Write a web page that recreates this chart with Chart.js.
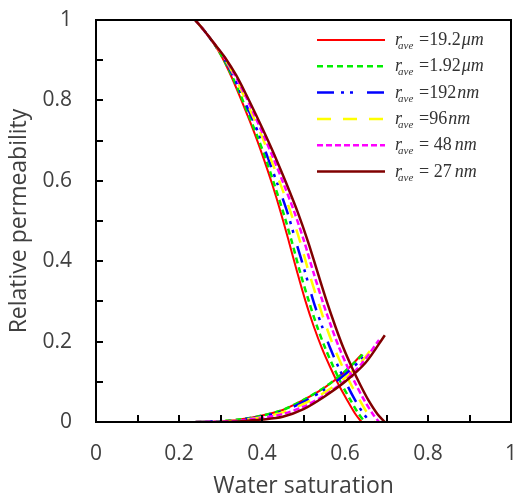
<!DOCTYPE html>
<html>
<head>
<meta charset="utf-8">
<script src="https://cdn.jsdelivr.net/npm/chart.js@4/dist/chart.umd.min.js"></script>
<style>
  html, body { margin: 0; padding: 0; background: #fff; }
  #wrap { position: relative; width: 516px; height: 502px; }
</style>
</head>
<body>
<div id="wrap"><canvas id="kr-chart" width="516" height="502"></canvas></div>
<script>
// --- data ---
// legend labels (r_ave values)
const poreSizes = ['19.2', '1.92', '192', '96', '48', '27'];
const poreUnits = ['μm', 'μm', 'nm', 'nm', 'nm', 'nm'];
const legendGaps = ['', '', '', '', ' ', ' '];

// oil relative permeability: shared kr levels, Sw per curve
const oilKr = [1, 0.972, 0.94, 0.905, 0.862, 0.814, 0.763, 0.71, 0.652, 0.59, 0.522,
               0.448, 0.372, 0.30, 0.237, 0.182, 0.135, 0.092, 0.055, 0.020, 0];
const oilSwRed     = [0.239, 0.262, 0.285, 0.305, 0.325, 0.345, 0.365, 0.385, 0.405, 0.425, 0.445,
                      0.465, 0.485, 0.505, 0.525, 0.545, 0.565, 0.585, 0.605, 0.625, 0.640];
const oilSwGreen   = [0.239, 0.262, 0.285, 0.306, 0.327, 0.348, 0.368, 0.389, 0.410, 0.430, 0.451,
                      0.472, 0.492, 0.513, 0.533, 0.553, 0.573, 0.593, 0.613, 0.633, 0.648];
const oilSwBlue    = [0.239, 0.262, 0.285, 0.308, 0.330, 0.351, 0.373, 0.395, 0.416, 0.438, 0.461,
                      0.482, 0.504, 0.524, 0.545, 0.565, 0.585, 0.605, 0.624, 0.645, 0.661];
const oilSwYellow  = [0.239, 0.262, 0.286, 0.309, 0.333, 0.355, 0.377, 0.400, 0.422, 0.445, 0.469,
                      0.492, 0.513, 0.535, 0.555, 0.575, 0.595, 0.615, 0.635, 0.655, 0.670];
const oilSwMagenta = [0.239, 0.262, 0.286, 0.311, 0.335, 0.359, 0.382, 0.405, 0.429, 0.453, 0.478,
                      0.502, 0.524, 0.546, 0.567, 0.587, 0.607, 0.627, 0.646, 0.667, 0.682];
const oilSwBrown   = [0.239, 0.262, 0.286, 0.312, 0.338, 0.362, 0.386, 0.410, 0.435, 0.460, 0.486,
                      0.511, 0.534, 0.556, 0.577, 0.597, 0.617, 0.637, 0.656, 0.678, 0.696];

// water relative permeability
const waterSwRed     = [0.24, 0.30, 0.35, 0.40, 0.45, 0.50, 0.55, 0.60, 0.640];
const waterKrRed     = [0, 0.002, 0.007, 0.016, 0.030, 0.055, 0.085, 0.125, 0.168];
const waterSwGreen   = [0.24, 0.30, 0.35, 0.40, 0.45, 0.50, 0.55, 0.60, 0.648];
const waterKrGreen   = [0, 0.002, 0.007, 0.016, 0.030, 0.055, 0.086, 0.126, 0.173];
const waterSwBlue    = [0.24, 0.30, 0.35, 0.40, 0.45, 0.50, 0.55, 0.60, 0.64, 0.661];
const waterKrBlue    = [0, 0.002, 0.006, 0.014, 0.027, 0.050, 0.080, 0.118, 0.157, 0.182];
const waterSwYellow  = [0.24, 0.30, 0.35, 0.40, 0.45, 0.50, 0.55, 0.60, 0.64, 0.670];
const waterKrYellow  = [0, 0.001, 0.005, 0.012, 0.024, 0.045, 0.073, 0.110, 0.150, 0.190];
const waterSwMagenta = [0.24, 0.30, 0.35, 0.40, 0.45, 0.50, 0.55, 0.60, 0.64, 0.682];
const waterKrMagenta = [0, 0.001, 0.004, 0.010, 0.020, 0.038, 0.066, 0.103, 0.145, 0.204];
const waterSwBrown   = [0.30, 0.35, 0.40, 0.45, 0.50, 0.55, 0.60, 0.65, 0.696];
const waterKrBrown   = [0, 0.002, 0.006, 0.013, 0.032, 0.063, 0.100, 0.148, 0.216];

const axisTicks = [0, 0.2, 0.4, 0.6, 0.8, 1];

// --- styles ---
const curveStyles = [
  { color: '#ff0000', width: 2,   dash: [] },
  { color: '#00ee00', width: 2.5, dash: [6, 4] },
  { color: '#0000ff', width: 2.5, dash: [17, 7, 3, 6, 3, 14] },
  { color: '#ffff00', width: 2.5, dash: [14, 12] },
  { color: '#ff00ff', width: 2.5, dash: [6, 3] },
  { color: '#800000', width: 2.5, dash: [] }
];

const oilSw = [oilSwRed, oilSwGreen, oilSwBlue, oilSwYellow, oilSwMagenta, oilSwBrown];
const waterSw = [waterSwRed, waterSwGreen, waterSwBlue, waterSwYellow, waterSwMagenta, waterSwBrown];
const waterKr = [waterKrRed, waterKrGreen, waterKrBlue, waterKrYellow, waterKrMagenta, waterKrBrown];

function toPoints(xs, ys) {
  return xs.map((x, i) => ({ x: x, y: ys[i] }));
}

const datasets = [];
curveStyles.forEach((st, i) => {
  const common = {
    borderColor: st.color,
    borderWidth: st.width,
    borderDash: st.dash,
    pointRadius: 0,
    showLine: true,
    fill: false,
    tension: 0.3,
    order: 5 - i
  };
  datasets.push(Object.assign({ label: 'kro ' + poreSizes[i], data: toPoints(oilSw[i], oilKr) }, common));
  datasets.push(Object.assign({ label: 'krw ' + poreSizes[i], data: toPoints(waterSw[i], waterKr[i]) }, common));
});

// frame + inward tick marks
const framePlugin = {
  id: 'frame',
  afterDraw(chart) {
    const { ctx, chartArea: a } = chart;
    const xs = chart.scales.x, ys = chart.scales.y;
    ctx.save();
    ctx.strokeStyle = '#000';
    ctx.lineWidth = 2;
    ctx.strokeRect(a.left, a.top, a.right - a.left, a.bottom - a.top);
    ctx.beginPath();
    xs.ticks.forEach(t => {
      const px = Math.round(xs.getPixelForValue(t.value));
      ctx.moveTo(px, a.bottom);
      ctx.lineTo(px, a.bottom - 7);
    });
    ys.ticks.forEach(t => {
      const py = Math.round(ys.getPixelForValue(t.value));
      ctx.moveTo(a.left, py);
      ctx.lineTo(a.left + 7, py);
    });
    ctx.stroke();
    ctx.restore();
  }
};

// legend with subscripted r_ave labels
const legendPlugin = {
  id: 'raveLegend',
  afterDraw(chart) {
    const ctx = chart.ctx;
    const x0 = 317, x1 = 385, top = 40, step = 26.3;
    ctx.save();
    curveStyles.forEach((st, i) => {
      const y = top + i * step;
      ctx.strokeStyle = st.color;
      ctx.lineWidth = st.width;
      ctx.setLineDash(st.dash);
      ctx.beginPath();
      ctx.moveTo(x0, y);
      ctx.lineTo(x1, y);
      ctx.stroke();
      ctx.setLineDash([]);

      ctx.fillStyle = '#333';
      ctx.textBaseline = 'alphabetic';
      ctx.textAlign = 'left';
      const base = y + 5;
      ctx.font = 'italic 18px "Liberation Serif"';
      ctx.fillText('r', 395, base);
      ctx.font = 'italic 11px "Liberation Serif"';
      ctx.fillText('ave', 398, base + 4);
      let tx = 419;
      ctx.font = '18px "Liberation Serif"';
      const num = '=' + legendGaps[i] + poreSizes[i];
      ctx.fillText(num, tx, base);
      tx += ctx.measureText(num).width + (legendGaps[i] ? 3 : 1);
      ctx.font = 'italic 18px "Liberation Serif"';
      ctx.fillText(poreUnits[i], tx, base);
    });
    ctx.restore();
  }
};

const tickFont = { family: '"Open Sans"', size: 21 };
const titleFont = { family: '"Open Sans"', size: 23 };
const labelColor = '#404040';

new Chart(document.getElementById('kr-chart'), {
  type: 'scatter',
  data: { datasets: datasets },
  options: {
    responsive: false,
    animation: false,
    devicePixelRatio: 1,
    layout: { padding: { left: 0, right: 5, top: 20, bottom: 0 } },
    plugins: { legend: { display: false }, tooltip: { enabled: false } },
    scales: {
      x: {
        type: 'linear', min: 0, max: 1,
        afterFit(s) { s.height = 80; s.paddingLeft = 0; s.paddingRight = 0; },
        grid: { display: true, drawOnChartArea: false, drawTicks: false },
        border: { display: true, color: '#000', width: 2 },
        ticks: {
          stepSize: 0.1, padding: 19, color: labelColor, font: tickFont, maxRotation: 0, autoSkip: false,
          callback: v => axisTicks.some(t => Math.abs(t - v) < 1e-6) ? String(Math.round(v * 10) / 10) : ''
        },
        title: { display: true, text: 'Water saturation', color: labelColor, font: titleFont, padding: { top: 0, bottom: 2 } }
      },
      y: {
        type: 'linear', min: 0, max: 1,
        afterFit(s) { s.width = 96; s.paddingTop = 0; s.paddingBottom = 0; },
        grid: { display: true, drawOnChartArea: false, drawTicks: false },
        border: { display: true, color: '#000', width: 2 },
        ticks: {
          stepSize: 0.1, padding: 24, color: labelColor, font: tickFont, autoSkip: false,
          callback: v => axisTicks.some(t => Math.abs(t - v) < 1e-6) ? String(Math.round(v * 10) / 10) : ''
        },
        title: { display: true, text: 'Relative permeability', color: labelColor, font: titleFont, padding: { top: 6, bottom: 0 } }
      }
    }
  },
  plugins: [framePlugin, legendPlugin]
});
</script>
</body>
</html>
